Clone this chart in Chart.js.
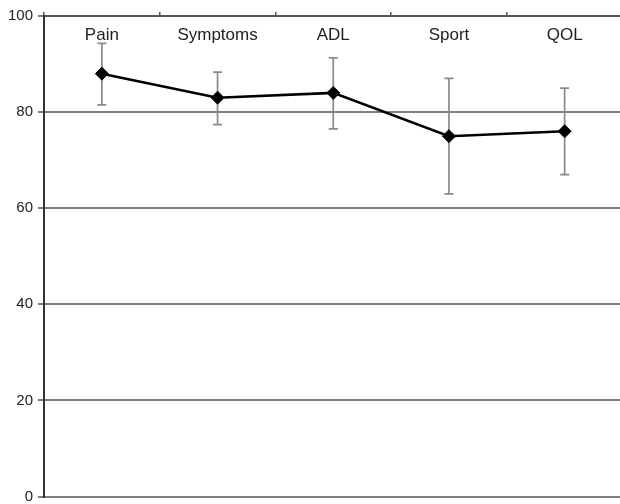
<!DOCTYPE html>
<html>
<head>
<meta charset="utf-8">
<script src="https://cdn.jsdelivr.net/npm/chart.js@4"></script>
<style>
  html, body { margin: 0; padding: 0; overflow: hidden; background: #fff; }
</style>
</head>
<body>
<canvas id="chart" width="630" height="504"></canvas>
<script>
const categories = ["Pain", "Symptoms", "ADL", "Sport", "QOL"];
const means = [88, 83, 84, 75, 76];
const errUpper = [94.3, 88.3, 91.3, 87, 85];
const errLower = [81.5, 77.4, 76.5, 63, 67];
const yMin = 0;
const yMax = 100;
const yStep = 20;

// whiskers drawn behind the markers
const errorBars = {
  id: "errorBars",
  beforeDatasetsDraw(chart) {
    const ctx = chart.ctx;
    const x = chart.scales.x;
    const y = chart.scales.y;
    ctx.save();
    ctx.strokeStyle = "#8a8a8a";
    ctx.lineWidth = 1.7;
    for (let i = 0; i < categories.length; i++) {
      const px = x.getPixelForValue(i);
      const top = y.getPixelForValue(errUpper[i]);
      const bot = y.getPixelForValue(errLower[i]);
      ctx.beginPath();
      ctx.moveTo(px, top);
      ctx.lineTo(px, bot);
      ctx.moveTo(px - 4.5, top);
      ctx.lineTo(px + 4.5, top);
      ctx.moveTo(px - 4.5, bot);
      ctx.lineTo(px + 4.5, bot);
      ctx.stroke();
    }
    ctx.restore();
  }
};

const ctx = document.getElementById("chart");

new Chart(ctx, {
  type: "line",
  data: {
    labels: categories,
    datasets: [
      {
        data: means,
        borderColor: "#000",
        borderWidth: 2.5,
        backgroundColor: "#000",
        pointStyle: "rectRot",
        pointRadius: 6.5,
        pointBorderWidth: 1,
        tension: 0,
      },
    ],
  },
  options: {
    responsive: false,
    animation: false,
    layout: { padding: { left: 0, right: 3, top: 0, bottom: 0 } },
    plugins: {
      legend: { display: false },
      tooltip: { enabled: false },
    },
    scales: {
      x: {
        position: "top",
        offset: true,
        afterFit: (s) => { s.height = 16; },
        grid: {
          offset: true,
          drawOnChartArea: false,
          tickLength: 4,
          color: "#555",
          lineWidth: 1.5,
        },
        border: { color: "#555", width: 2 },
        ticks: {
          mirror: true,
          padding: 9,
          color: "#222",
          font: { family: "Liberation Sans", size: 17 },
          maxRotation: 0,
        },
      },
      y: {
        min: yMin,
        max: yMax,
        afterFit: (s) => {
          s.width = 44;
          s.paddingTop = 0;
          s.paddingBottom = 6;
        },
        ticks: {
          stepSize: yStep,
          padding: 5,
          color: "#222",
          font: { family: "Liberation Sans", size: 15 },
        },
        grid: {
          color: "#808080",
          lineWidth: 2,
          tickLength: 6,
        },
        border: { color: "#333", width: 2 },
      },
    },
  },
  plugins: [errorBars],
});
</script>
</body>
</html>
